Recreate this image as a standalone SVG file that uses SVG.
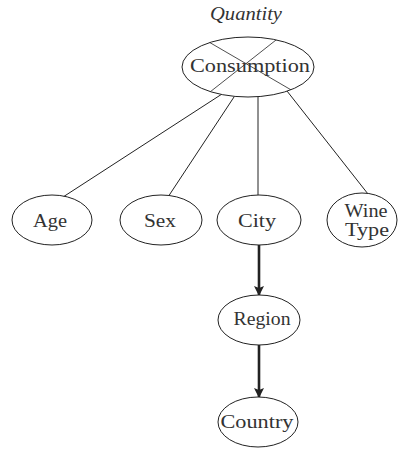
<svg xmlns="http://www.w3.org/2000/svg" width="403" height="449" viewBox="0 0 403 449">
<style>
.n{fill:#fff;stroke:#222;stroke-width:1}
.t{font-family:"Liberation Serif","Times New Roman",serif;font-size:18px;fill:#333;text-anchor:middle}
.e{stroke:#222;stroke-width:1;fill:none}
.a{stroke:#222;stroke-width:2.6;fill:none}
</style>
<defs>
<marker id="ah" markerWidth="10" markerHeight="14" refX="9" refY="5" orient="auto" markerUnits="userSpaceOnUse">
<path d="M0,0 L10,5 L0,10 L2,5 Z" fill="#222"/>
</marker>
<clipPath id="cc"><ellipse cx="248" cy="67" rx="66" ry="30"/></clipPath>
</defs>
<g id="connectors">
<line class="e" x1="222" y1="94" x2="63" y2="197"/>
<line class="e" x1="234" y1="97" x2="168" y2="197"/>
<line class="e" x1="258" y1="97" x2="258" y2="195"/>
<line class="e" x1="287" y1="91" x2="368" y2="194"/>
<line class="a" x1="259" y1="245" x2="259" y2="295" marker-end="url(#ah)"/>
<line class="a" x1="259" y1="345" x2="259" y2="397" marker-end="url(#ah)"/>
</g>
<g id="consumption">
<text x="246" y="20" class="t" font-style="italic" font-size="14" textLength="72" lengthAdjust="spacingAndGlyphs">Quantity</text>
<ellipse class="n" cx="248" cy="67" rx="66" ry="30"/>
<g clip-path="url(#cc)">
<line x1="190" y1="31" x2="305" y2="98" stroke="#222" stroke-width="0.8"/>
<line x1="290" y1="29" x2="196" y2="103" stroke="#222" stroke-width="0.8"/>
</g>
<text x="250" y="72" class="t" textLength="120" lengthAdjust="spacingAndGlyphs">Consumption</text>
</g>
<g id="age"><ellipse class="n" cx="52" cy="220" rx="40" ry="25"/><text x="50" y="227" class="t" textLength="34" lengthAdjust="spacingAndGlyphs">Age</text></g>
<g id="sex"><ellipse class="n" cx="161" cy="220" rx="41" ry="25"/><text x="160" y="227" class="t" textLength="32" lengthAdjust="spacingAndGlyphs">Sex</text></g>
<g id="city"><ellipse class="n" cx="259" cy="220" rx="42" ry="25"/><text x="257" y="227" class="t" textLength="38" lengthAdjust="spacingAndGlyphs">City</text></g>
<g id="winetype"><ellipse class="n" cx="362" cy="220" rx="35" ry="27"/><text x="366" y="217" class="t" font-size="16" textLength="43" lengthAdjust="spacingAndGlyphs">Wine</text><text x="367" y="236" class="t" font-size="16" textLength="44" lengthAdjust="spacingAndGlyphs">Type</text></g>
<g id="region"><ellipse class="n" cx="259" cy="320" rx="41" ry="25"/><text x="262" y="325" class="t" textLength="57" lengthAdjust="spacingAndGlyphs">Region</text></g>
<g id="country"><ellipse class="n" cx="258" cy="422" rx="40" ry="25"/><text x="257" y="428" class="t" textLength="73" lengthAdjust="spacingAndGlyphs">Country</text></g>
</svg>
